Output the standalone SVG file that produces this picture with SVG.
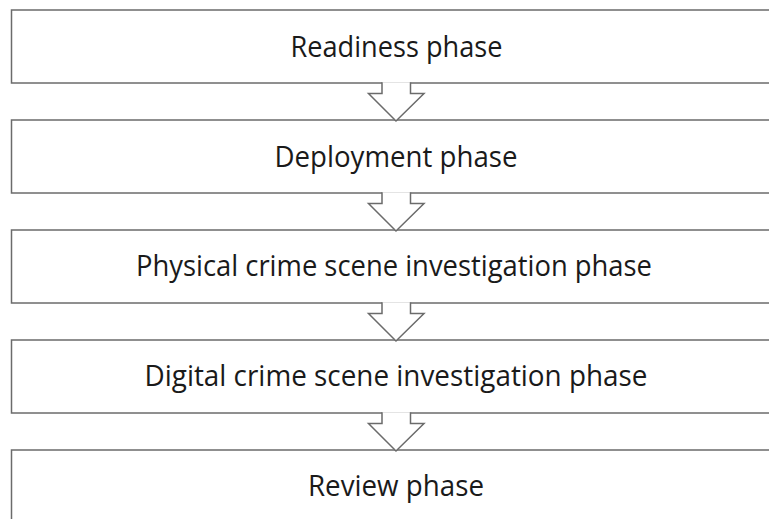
<svg xmlns="http://www.w3.org/2000/svg" width="769" height="519" viewBox="0 0 769 519">
<style>
.box{fill:#ffffff;stroke:#6b6b6b;stroke-width:1.5}
.arr{fill:#ffffff;stroke:#6b6b6b;stroke-width:1.5;stroke-linejoin:miter}
.lbl{font-family:"Open Sans","Liberation Sans",sans-serif;font-size:28.5px;fill:#1a1a1a;text-anchor:middle}
</style>
<rect width="769" height="519" fill="#ffffff"/>
<g id="node-readiness">
<rect class="box" x="11.5" y="10" width="775" height="73"/>
<text class="lbl" x="396.5" y="56.5" textLength="212" lengthAdjust="spacingAndGlyphs">Readiness phase</text>
</g>
<g id="node-deployment">
<rect class="box" x="11.5" y="120" width="775" height="73"/>
<text class="lbl" x="396" y="166.5" textLength="243" lengthAdjust="spacingAndGlyphs">Deployment phase</text>
</g>
<g id="node-physical">
<rect class="box" x="11.5" y="230" width="775" height="73"/>
<text class="lbl" x="394" y="276" textLength="516" lengthAdjust="spacingAndGlyphs">Physical crime scene investigation phase</text>
</g>
<g id="node-digital">
<rect class="box" x="11.5" y="340" width="775" height="73"/>
<text class="lbl" x="396" y="386" textLength="503" lengthAdjust="spacingAndGlyphs">Digital crime scene investigation phase</text>
</g>
<g id="node-review">
<rect class="box" x="11.5" y="450" width="775" height="80"/>
<text class="lbl" x="396" y="496" textLength="176" lengthAdjust="spacingAndGlyphs">Review phase</text>
</g>
<g id="connectors">
<path class="arr" d="M382,82.2 V93.5 H368.5 L396,121 L424,93.5 H410.5 V82.2"/>
<path class="arr" d="M382,192.2 V203.5 H368.5 L396,231 L424,203.5 H410.5 V192.2"/>
<path class="arr" d="M382,302.2 V313.5 H368.5 L396,341 L424,313.5 H410.5 V302.2"/>
<path class="arr" d="M382,412.2 V423.5 H368.5 L396,451 L424,423.5 H410.5 V412.2"/>
</g>
</svg>
